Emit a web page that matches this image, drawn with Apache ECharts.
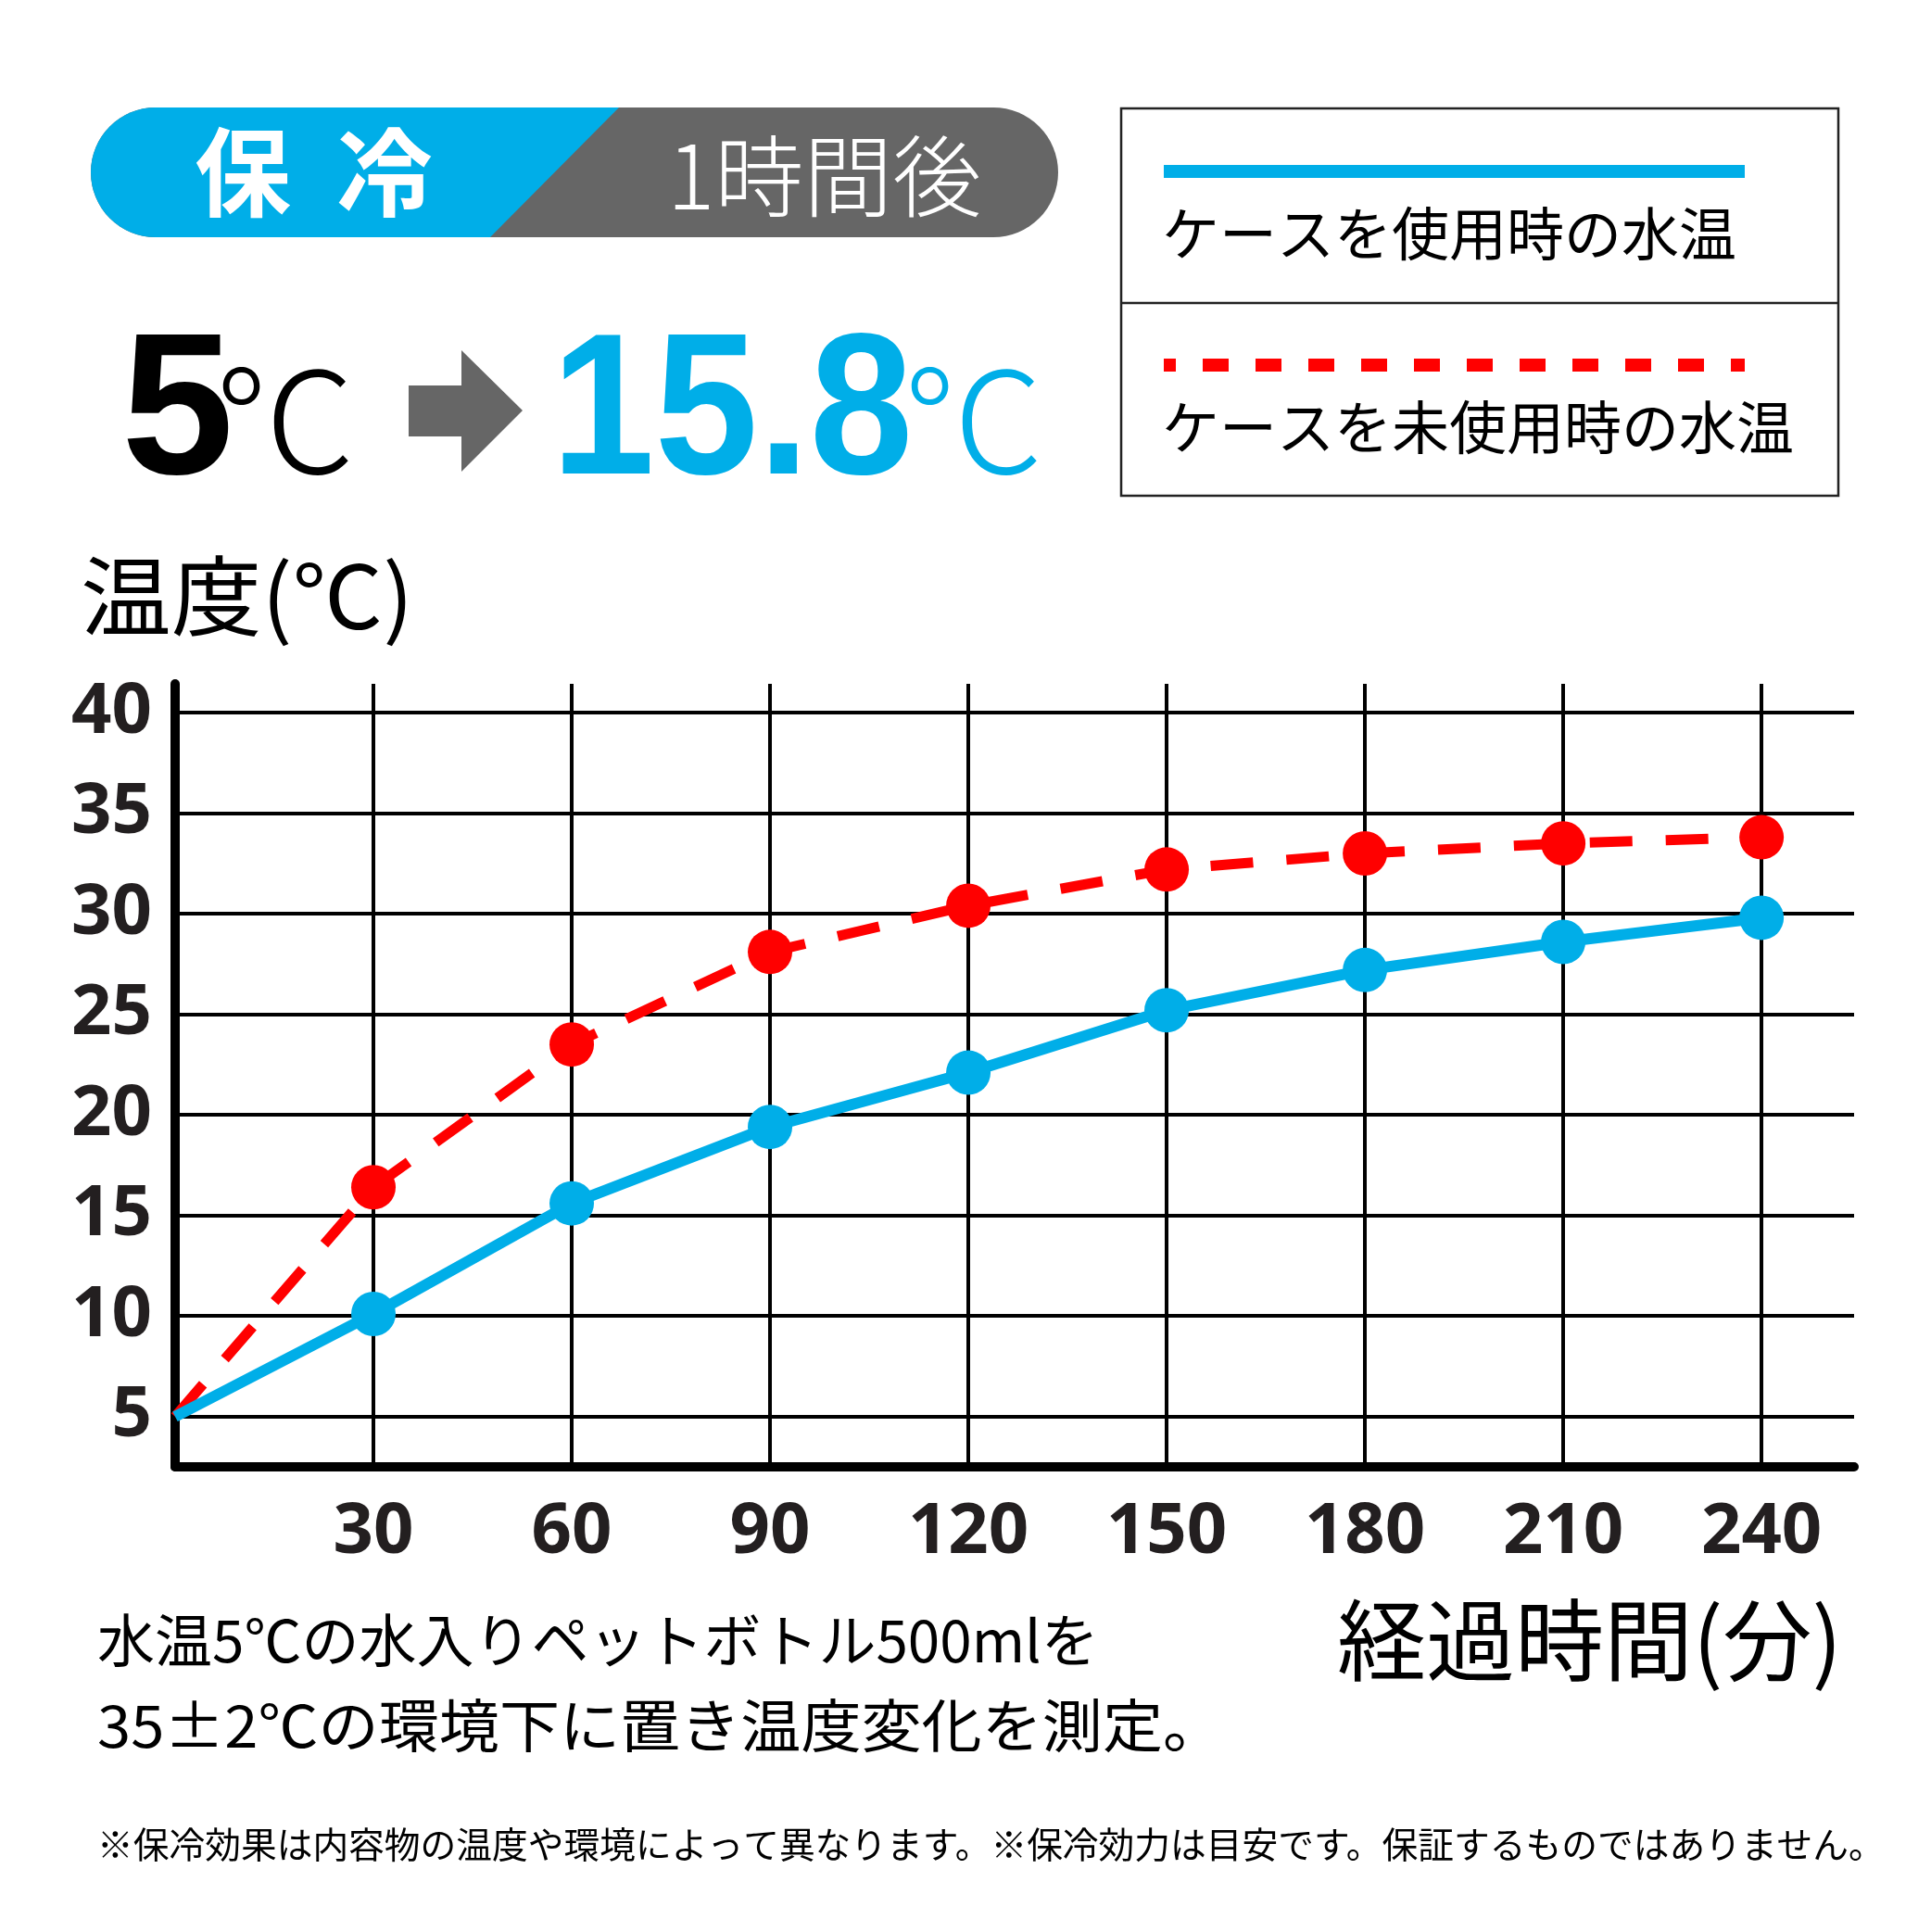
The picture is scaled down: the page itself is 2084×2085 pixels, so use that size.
<!DOCTYPE html>
<html>
<head>
<meta charset="utf-8">
<script src="https://cdn.jsdelivr.net/npm/echarts@6/dist/echarts.min.js"></script>
<style>
  html, body { margin: 0; padding: 0; background: #fff; }
  #chart { width: 2084px; height: 2085px; }
</style>
</head>
<body>
<div id="chart"></div>
<script>
// 経過時間（分）
const minutes = [0, 30, 60, 90, 120, 150, 180, 210, 240];
// ケースを使用時の水温
const withCase = [5, 10.1, 15.6, 19.4, 22.1, 25.2, 27.2, 28.6, 29.8];
// ケースを未使用時の水温
const withoutCase = [5, 16.4, 23.5, 28.1, 30.4, 32.2, 33.0, 33.5, 33.8];
// 目盛ラベル
const xTicks = [30, 60, 90, 120, 150, 180, 210, 240];
const yTicks = [5, 10, 15, 20, 25, 30, 35, 40];

const seriesNames = ['ケースを使用時の水温', 'ケースを未使用時の水温'];

const BLUE = '#00aee8';
const RED = '#ff0000';
const GREY = '#666666';
const CJK = '"Noto Sans CJK JP", "Noto Sans", sans-serif';
const NUM = '"Open Sans", "Noto Sans", sans-serif';
const BIG = '"Liberation Sans", Arial, sans-serif';

const chart = echarts.init(document.getElementById('chart'), null, { renderer: 'canvas' });

function pairs(xs, ys) {
  return xs.map((x, i) => [x, ys[i]]);
}

const option = {
  animation: false,
  backgroundColor: '#fff',
  grid: { left: 189, right: 83, top: 738, bottom: 502 },
  xAxis: {
    type: 'value',
    min: 0,
    max: 254,
    interval: 30,
    axisLine: { show: true, lineStyle: { color: '#000', width: 10 } },
    axisTick: { show: false },
    splitLine: { show: true, showMaxLine: false, lineStyle: { color: '#000', width: 4 } },
    axisLabel: {
      margin: 33,
      fontFamily: NUM,
      fontWeight: 'bold',
      fontSize: 76,
      color: '#231f20',
      formatter: v => (xTicks.indexOf(v) >= 0 ? String(v) : '')
    }
  },
  yAxis: {
    type: 'value',
    min: 2.5,
    max: 41.43,
    interval: 2.5,
    axisLine: { show: true, lineStyle: { color: '#000', width: 10 } },
    axisTick: { show: false },
    // ticks every 2.5, only every other one (5, 10, ...) gets a line
    splitLine: { show: true, showMaxLine: false, lineStyle: { color: ['rgba(0,0,0,0)', '#000'], width: 4 } },
    axisLabel: {
      margin: 25,
      fontFamily: NUM,
      fontWeight: 'bold',
      fontSize: 76,
      color: '#231f20',
      formatter: v => (yTicks.indexOf(v) >= 0 ? String(v) : '')
    }
  },
  series: [
    {
      name: seriesNames[1],
      type: 'line',
      data: pairs(minutes, withoutCase),
      symbol: 'circle',
      symbolSize: (v, p) => (p.dataIndex === 0 ? 0 : 48),
      itemStyle: { color: RED },
      lineStyle: { color: RED, width: 11, type: [46, 36] },
      z: 3
    },
    {
      name: seriesNames[0],
      type: 'line',
      data: pairs(minutes, withCase),
      symbol: 'circle',
      symbolSize: (v, p) => (p.dataIndex === 0 ? 0 : 48),
      itemStyle: { color: BLUE },
      lineStyle: { color: BLUE, width: 12 },
      z: 4
    }
  ],
  graphic: [
    // 見出しの帯
    {
      type: 'rect',
      shape: { x: 98, y: 116, width: 1044, height: 140, r: 70 },
      style: { fill: GREY }
    },
    {
      type: 'rect',
      shape: { x: 98, y: 116, width: 570, height: 140, r: [70, 0, 0, 70] },
      style: { fill: BLUE }
    },
    {
      type: 'polygon',
      shape: { points: [[529, 256], [668, 116], [670, 116], [670, 256]] },
      style: { fill: GREY }
    },
    {
      type: 'text', x: 262, y: 186,
      style: { text: '保', fill: '#fff', font: 'bold 104px ' + CJK, textAlign: 'center', textVerticalAlign: 'middle' }
    },
    {
      type: 'text', x: 415, y: 186,
      style: { text: '冷', fill: '#fff', font: 'bold 104px ' + CJK, textAlign: 'center', textVerticalAlign: 'middle' }
    },
    {
      type: 'text', x: 720, y: 190,
      style: { text: '1時間後', fill: '#fff', font: '300 96px ' + CJK, textAlign: 'left', textVerticalAlign: 'middle' }
    },
    // 5℃ → 15.8℃
    {
      type: 'text', x: 131, y: 451,
      style: { text: '5', fill: '#000', font: 'bold 218px ' + BIG, textAlign: 'left', textVerticalAlign: 'middle' }
    },
    {
      type: 'text', x: 232, y: 453,
      style: { text: '℃', fill: '#000', font: '300 152px ' + CJK, textAlign: 'left', textVerticalAlign: 'middle' }
    },
    {
      type: 'polygon',
      shape: { points: [[441, 416], [498, 416], [498, 378], [564, 443], [498, 509], [498, 471], [441, 471]] },
      style: { fill: GREY }
    },
    {
      type: 'text', x: 595, y: 451, scaleX: 0.92,
      style: { text: '15.8', fill: BLUE, font: 'bold 218px ' + BIG, textAlign: 'left', textVerticalAlign: 'middle' }
    },
    {
      type: 'text', x: 975, y: 453,
      style: { text: '℃', fill: BLUE, font: '300 152px ' + CJK, textAlign: 'left', textVerticalAlign: 'middle' }
    },
    // 凡例
    {
      type: 'rect',
      shape: { x: 1210, y: 117, width: 774, height: 418 },
      style: { fill: 'none', stroke: '#222', lineWidth: 2.5 }
    },
    {
      type: 'line',
      shape: { x1: 1210, y1: 327, x2: 1984, y2: 327 },
      style: { stroke: '#222', lineWidth: 2.5 }
    },
    {
      type: 'line',
      shape: { x1: 1256, y1: 185, x2: 1883, y2: 185 },
      style: { stroke: BLUE, lineWidth: 14 }
    },
    {
      type: 'text', x: 1254, y: 252,
      style: { text: seriesNames[0], fill: '#000', font: '62px ' + CJK, textAlign: 'left', textVerticalAlign: 'middle' }
    },
    {
      type: 'line',
      shape: { x1: 1256, y1: 394, x2: 1883, y2: 394 },
      style: { stroke: RED, lineWidth: 14, lineDash: [28, 29], lineDashOffset: 15 }
    },
    {
      type: 'text', x: 1254, y: 461,
      style: { text: seriesNames[1], fill: '#000', font: '62px ' + CJK, textAlign: 'left', textVerticalAlign: 'middle' }
    },
    // 軸名
    {
      type: 'text', x: 87, y: 643, scaleX: 1.04,
      style: { text: '温度(℃)', fill: '#000', font: '94px ' + CJK, textAlign: 'left', textVerticalAlign: 'middle' }
    },
    {
      type: 'text', x: 1443, y: 1770,
      style: { text: '経過時間(分)', fill: '#000', font: '96px ' + CJK, textAlign: 'left', textVerticalAlign: 'middle' }
    },
    // 注記
    {
      type: 'text', x: 105, y: 1770,
      style: { text: '水温5℃の水入りペットボトル500mlを', fill: '#000', font: '62px ' + CJK, textAlign: 'left', textVerticalAlign: 'middle' }
    },
    {
      type: 'text', x: 105, y: 1862, scaleX: 1.05,
      style: { text: '35±2℃の環境下に置き温度変化を測定。', fill: '#000', font: '62px ' + CJK, textAlign: 'left', textVerticalAlign: 'middle' }
    },
    {
      type: 'text', x: 105, y: 1990, scaleX: 1.006,
      style: { text: '※保冷効果は内容物の温度や環境によって異なります。※保冷効力は目安です。保証するものではありません。', fill: '#000', font: '38.5px ' + CJK, textAlign: 'left', textVerticalAlign: 'middle' }
    }
  ]
};

chart.setOption(option);
</script>
</body>
</html>
